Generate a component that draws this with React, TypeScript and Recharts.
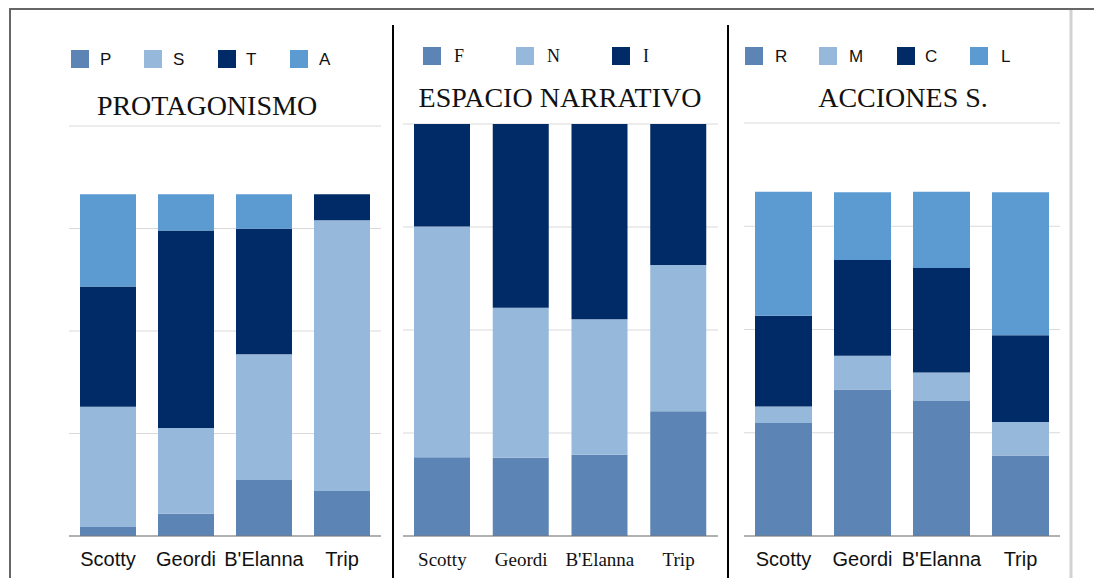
import { BarChart, Bar, XAxis, YAxis, CartesianGrid } from 'recharts';

const characters = ['Scotty', 'Geordi', "B'Elanna", 'Trip'];

// PROTAGONISMO (percent, stacked; axis runs to 120)
const protP = [2.6, 6.5, 16.4, 13.2];
const protS = [35.2, 25.1, 36.8, 79.2];
const protT = [35.2, 57.8, 36.7, 7.6];
const protA = [27.0, 10.6, 10.1, 0];

// ESPACIO NARRATIVO (percent, stacked; axis runs to 100)
const espF = [19.1, 19.0, 19.7, 30.3];
const espN = [56.0, 36.4, 32.9, 35.5];
const espI = [24.9, 44.6, 47.4, 34.2];

// ACCIONES S. (percent, stacked; axis runs to 120)
const accR = [32.8, 42.6, 39.2, 23.4];
const accM = [4.8, 9.8, 8.3, 9.7];
const accC = [26.4, 27.8, 30.4, 25.2];
const accL = [36.0, 19.7, 22.1, 41.6];

const ticks120 = [0, 30, 60, 90, 120];
const ticks100 = [0, 25, 50, 75, 100];

const MID = '#5c85b6';
const LIGHT = '#96b8db';
const DARK = '#002b66';
const SKY = '#5b9bd2';

const SANS = '"Liberation Sans", Arial, Helvetica, sans-serif';
const SERIF = '"Liberation Serif", "Times New Roman", Times, serif';

type SeriesDef = { key: string; values: number[]; color: string };

interface PanelProps {
  left: number;
  width: number;
  margin: { top: number; right: number; bottom: number; left: number };
  barSize: number;
  max: number;
  ticks: number[];
  series: SeriesDef[];
  font: string;
  tickFontSize: number;
}

function Panel({ left, width, margin, barSize, max, ticks, series, font, tickFontSize }: PanelProps) {
  const rows = characters.map((name, i) => {
    const row: Record<string, string | number> = { name };
    series.forEach((s) => {
      row[s.key] = s.values[i];
    });
    return row;
  });

  const renderTick = (props: any) => (
    <text
      x={props.x}
      y={props.y + 30}
      textAnchor="middle"
      fontFamily={font}
      fontSize={tickFontSize}
      fill="#111"
    >
      {props.payload.value}
    </text>
  );

  return (
    <div style={{ position: 'absolute', left, top: 0 }}>
      <BarChart width={width} height={578} data={rows} margin={margin}>
        <CartesianGrid vertical={false} stroke="#d9d9d9" />
        <YAxis hide domain={[0, max]} ticks={ticks} />
        <XAxis
          dataKey="name"
          height={30}
          tickLine={false}
          tickSize={0}
          tickMargin={0}
          axisLine={{ stroke: '#777' }}
          tick={renderTick}
          interval={0}
        />
        {series.map((s) => (
          <Bar
            key={s.key}
            dataKey={s.key}
            stackId="a"
            fill={s.color}
            barSize={barSize}
            isAnimationActive={false}
          />
        ))}
      </BarChart>
    </div>
  );
}

type LegendItem = { label: string; color: string; x: number; tx: number };

function Legend({ items, y, font, size }: { items: LegendItem[]; y: number; font: string; size: number }) {
  return (
    <g>
      {items.map((it) => (
        <g key={it.label}>
          <rect x={it.x} y={y} width={18} height={18} fill={it.color} />
          <text x={it.tx} y={y + 15} fontFamily={font} fontSize={size} fill="#111">
            {it.label}
          </text>
        </g>
      ))}
    </g>
  );
}

export default function App() {
  return (
    <div
      style={{
        position: 'absolute',
        left: 0,
        top: 0,
        width: 1094,
        height: 578,
        background: '#fff',
        overflow: 'hidden',
      }}
    >
      <Panel
        left={60}
        width={340}
        margin={{ top: 126, right: 19, bottom: 12, left: 9 }}
        barSize={56}
        max={120}
        ticks={ticks120}
        font={SANS}
        tickFontSize={20}
        series={[
          { key: 'P', values: protP, color: MID },
          { key: 'S', values: protS, color: LIGHT },
          { key: 'T', values: protT, color: DARK },
          { key: 'A', values: protA, color: SKY },
        ]}
      />
      <Panel
        left={395}
        width={340}
        margin={{ top: 124, right: 17, bottom: 12, left: 8 }}
        barSize={56}
        max={100}
        ticks={ticks100}
        font={SERIF}
        tickFontSize={19}
        series={[
          { key: 'F', values: espF, color: MID },
          { key: 'N', values: espN, color: LIGHT },
          { key: 'I', values: espI, color: DARK },
        ]}
      />
      <Panel
        left={735}
        width={335}
        margin={{ top: 123, right: 10, bottom: 12, left: 9 }}
        barSize={57}
        max={120}
        ticks={ticks120}
        font={SANS}
        tickFontSize={20}
        series={[
          { key: 'R', values: accR, color: MID },
          { key: 'M', values: accM, color: LIGHT },
          { key: 'C', values: accC, color: DARK },
          { key: 'L', values: accL, color: SKY },
        ]}
      />
      <svg
        width={1094}
        height={578}
        style={{ position: 'absolute', left: 0, top: 0, pointerEvents: 'none' }}
      >
        {/* frame */}
        <line x1={9} y1={9} x2={1094} y2={9} stroke="#666" strokeWidth={2} />
        <line x1={10} y1={9} x2={10} y2={578} stroke="#666" strokeWidth={2} />
        <line x1={1071} y1={10} x2={1071} y2={578} stroke="#d2d2d2" strokeWidth={3} />
        <line x1={393} y1={25} x2={393} y2={578} stroke="#000" strokeWidth={2} />
        <line x1={728} y1={25} x2={728} y2={578} stroke="#000" strokeWidth={2} />

        <Legend
          y={50}
          font={SANS}
          size={17}
          items={[
            { label: 'P', color: MID, x: 71, tx: 100 },
            { label: 'S', color: LIGHT, x: 144, tx: 173 },
            { label: 'T', color: DARK, x: 218, tx: 246 },
            { label: 'A', color: SKY, x: 290, tx: 319 },
          ]}
        />
        <Legend
          y={47}
          font={SERIF}
          size={18}
          items={[
            { label: 'F', color: MID, x: 423, tx: 454 },
            { label: 'N', color: LIGHT, x: 516, tx: 547 },
            { label: 'I', color: DARK, x: 612, tx: 643 },
          ]}
        />
        <Legend
          y={47}
          font={SANS}
          size={17}
          items={[
            { label: 'R', color: MID, x: 745, tx: 775 },
            { label: 'M', color: LIGHT, x: 819, tx: 849 },
            { label: 'C', color: DARK, x: 897, tx: 925 },
            { label: 'L', color: SKY, x: 970, tx: 1001 },
          ]}
        />

        <text x={207} y={115} textAnchor="middle" fontFamily={SERIF} fontSize={28} fill="#111">
          PROTAGONISMO
        </text>
        <text x={560} y={107} textAnchor="middle" fontFamily={SERIF} fontSize={28} fill="#111">
          ESPACIO NARRATIVO
        </text>
        <text x={903} y={107} textAnchor="middle" fontFamily={SERIF} fontSize={28} fill="#111">
          ACCIONES S.
        </text>
      </svg>
    </div>
  );
}
